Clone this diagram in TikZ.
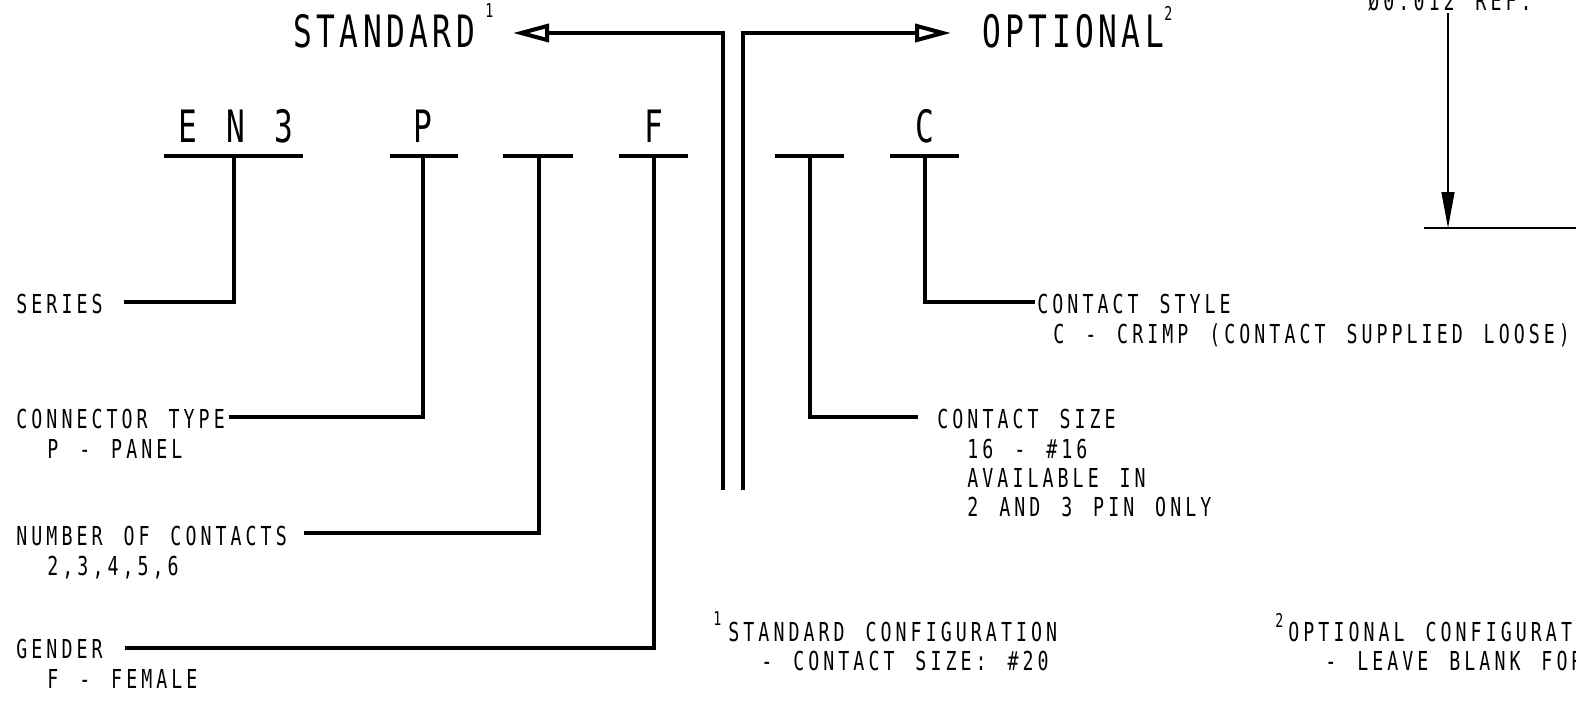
\documentclass[tikz,border=0pt]{standalone}
\usepackage{fontspec}
\setmainfont{DejaVu Sans Mono}
\newfontfamily\cadsmall{DejaVu Sans Mono}[FakeStretch=0.7,LetterSpace=15.5,WordSpace=1.39]
\newfontfamily\cadbig{DejaVu Sans Mono}[FakeStretch=0.7,LetterSpace=10,WordSpace=1.24]
\usetikzlibrary{arrows.meta}
\begin{document}
\begin{tikzpicture}[x=0.5pt,y=-0.5pt,
  lead/.style={line width=2pt},
  thinline/.style={line width=0.7pt},
  lbl/.style={anchor=base west, inner sep=0pt, font=\cadsmall\fontsize{13.05}{16}\selectfont},
  codetxt/.style={anchor=base, inner sep=0pt, font=\cadbig\fontsize{22.3}{26}\selectfont},
  bigtxt/.style={anchor=base west, inner sep=0pt, font=\cadbig\fontsize{22.3}{26}\selectfont},
  suptxt/.style={anchor=base west, inner sep=0pt, font=\cadsmall\fontsize{9.5}{11}\selectfont},
  openhead/.style={-{Triangle[open,length=18pt,width=9pt]}}]
\fill[white] (0,0) rectangle (1576,703);
\useasboundingbox (0,0) rectangle (1576,703);

% top: standard / optional
\node[bigtxt] (std) at (293,47) {STANDARD};
\node[suptxt] (stdsup) at (485,17) {1};
\node[bigtxt] (opt) at (982,47) {OPTIONAL};
\node[suptxt] (optsup) at (1164,20) {2};
\coordinate (c1bot) at (723,490);
\coordinate (c2bot) at (743,490);
\coordinate (stdtip) at (513,33);
\coordinate (opttip) at (951,33);
\draw[lead,openhead] (c1bot) |- (stdtip);
\draw[lead,openhead] (c2bot) |- (opttip);

% code letters
\node[codetxt] (en3) at (236,142) {E N 3};
\node[codetxt] (p) at (423,142) {P};
\node[codetxt] (f) at (654,142) {F};
\node[codetxt] (c) at (925,142) {C};

% bars
\draw[lead] (164,156) -- (303,156);
\draw[lead] (390,156) -- (458,156);
\draw[lead] (503,156) -- (573,156);
\draw[lead] (619,156) -- (688,156);
\draw[lead] (775,156) -- (844,156);
\draw[lead] (890,156) -- (959,156);
\coordinate (b-en3) at (234,156);
\coordinate (b-p) at (423,156);
\coordinate (b-n) at (539,156);
\coordinate (b-f) at (654,156);
\coordinate (b-s) at (810,156);
\coordinate (b-c) at (925,156);

% left labels
\node[lbl] (series) at (16,313) {SERIES};
\node[lbl] (ctype) at (16,428) {CONNECTOR TYPE};
\node[lbl] (ctype2) at (47,458) {P - PANEL};
\node[lbl] (ncont) at (16,545) {NUMBER OF CONTACTS};
\node[lbl] (ncont2) at (47,575) {2,3,4,5,6};
\node[lbl] (gender) at (16,658) {GENDER};
\node[lbl] (gender2) at (47,688) {F - FEMALE};

% right labels
\node[lbl] (cstyle) at (1037,313) {CONTACT STYLE};
\node[lbl] (cstyle2) at (1053,343) {C - CRIMP (CONTACT SUPPLIED LOOSE)};
\node[lbl] (csize) at (937,428) {CONTACT SIZE};
\node[lbl] (csize2) at (967,458) {16 - \#16};
\node[lbl] (csize3) at (967,487) {AVAILABLE IN};
\node[lbl] (csize4) at (967,516) {2 AND 3 PIN ONLY};

% leader ends
\coordinate (e-series) at (124,302);
\coordinate (e-ctype) at (229,417);
\coordinate (e-ncont) at (304,533);
\coordinate (e-gender) at (125,648);
\coordinate (e-csize) at (918,417);
\coordinate (e-cstyle) at (1035,302);
\draw[lead] (b-en3) |- (e-series);
\draw[lead] (b-p) |- (e-ctype);
\draw[lead] (b-n) |- (e-ncont);
\draw[lead] (b-f) |- (e-gender);
\draw[lead] (b-s) |- (e-csize);
\draw[lead] (b-c) |- (e-cstyle);

% footnotes
\node[suptxt] (fn1sup) at (713,625) {1};
\node[lbl] (fn1) at (728,641) {STANDARD CONFIGURATION};
\node[lbl] (fn1b) at (761,670) {- CONTACT SIZE: \#20};
\node[suptxt] (fn2sup) at (1275,627) {2};
\node[lbl] (fn2) at (1288,641) {OPTIONAL CONFIGURATION};
\node[lbl] (fn2b) at (1325,670) {- LEAVE BLANK FOR};

% top-right dimension
\node[lbl, anchor=base] (dia) at (1450,10) {Ø0.012 REF.};
\coordinate (dtop) at (1448,13);
\coordinate (dtip) at (1448,228);
\coordinate (hl) at (1424,228);
\coordinate (hr) at (1576,228);
\draw[thinline,-{Triangle[length=18pt,width=6.5pt]}] (dtop) -- (dtip);
\draw[thinline] (hl) -- (hr);
\end{tikzpicture}
\end{document}
